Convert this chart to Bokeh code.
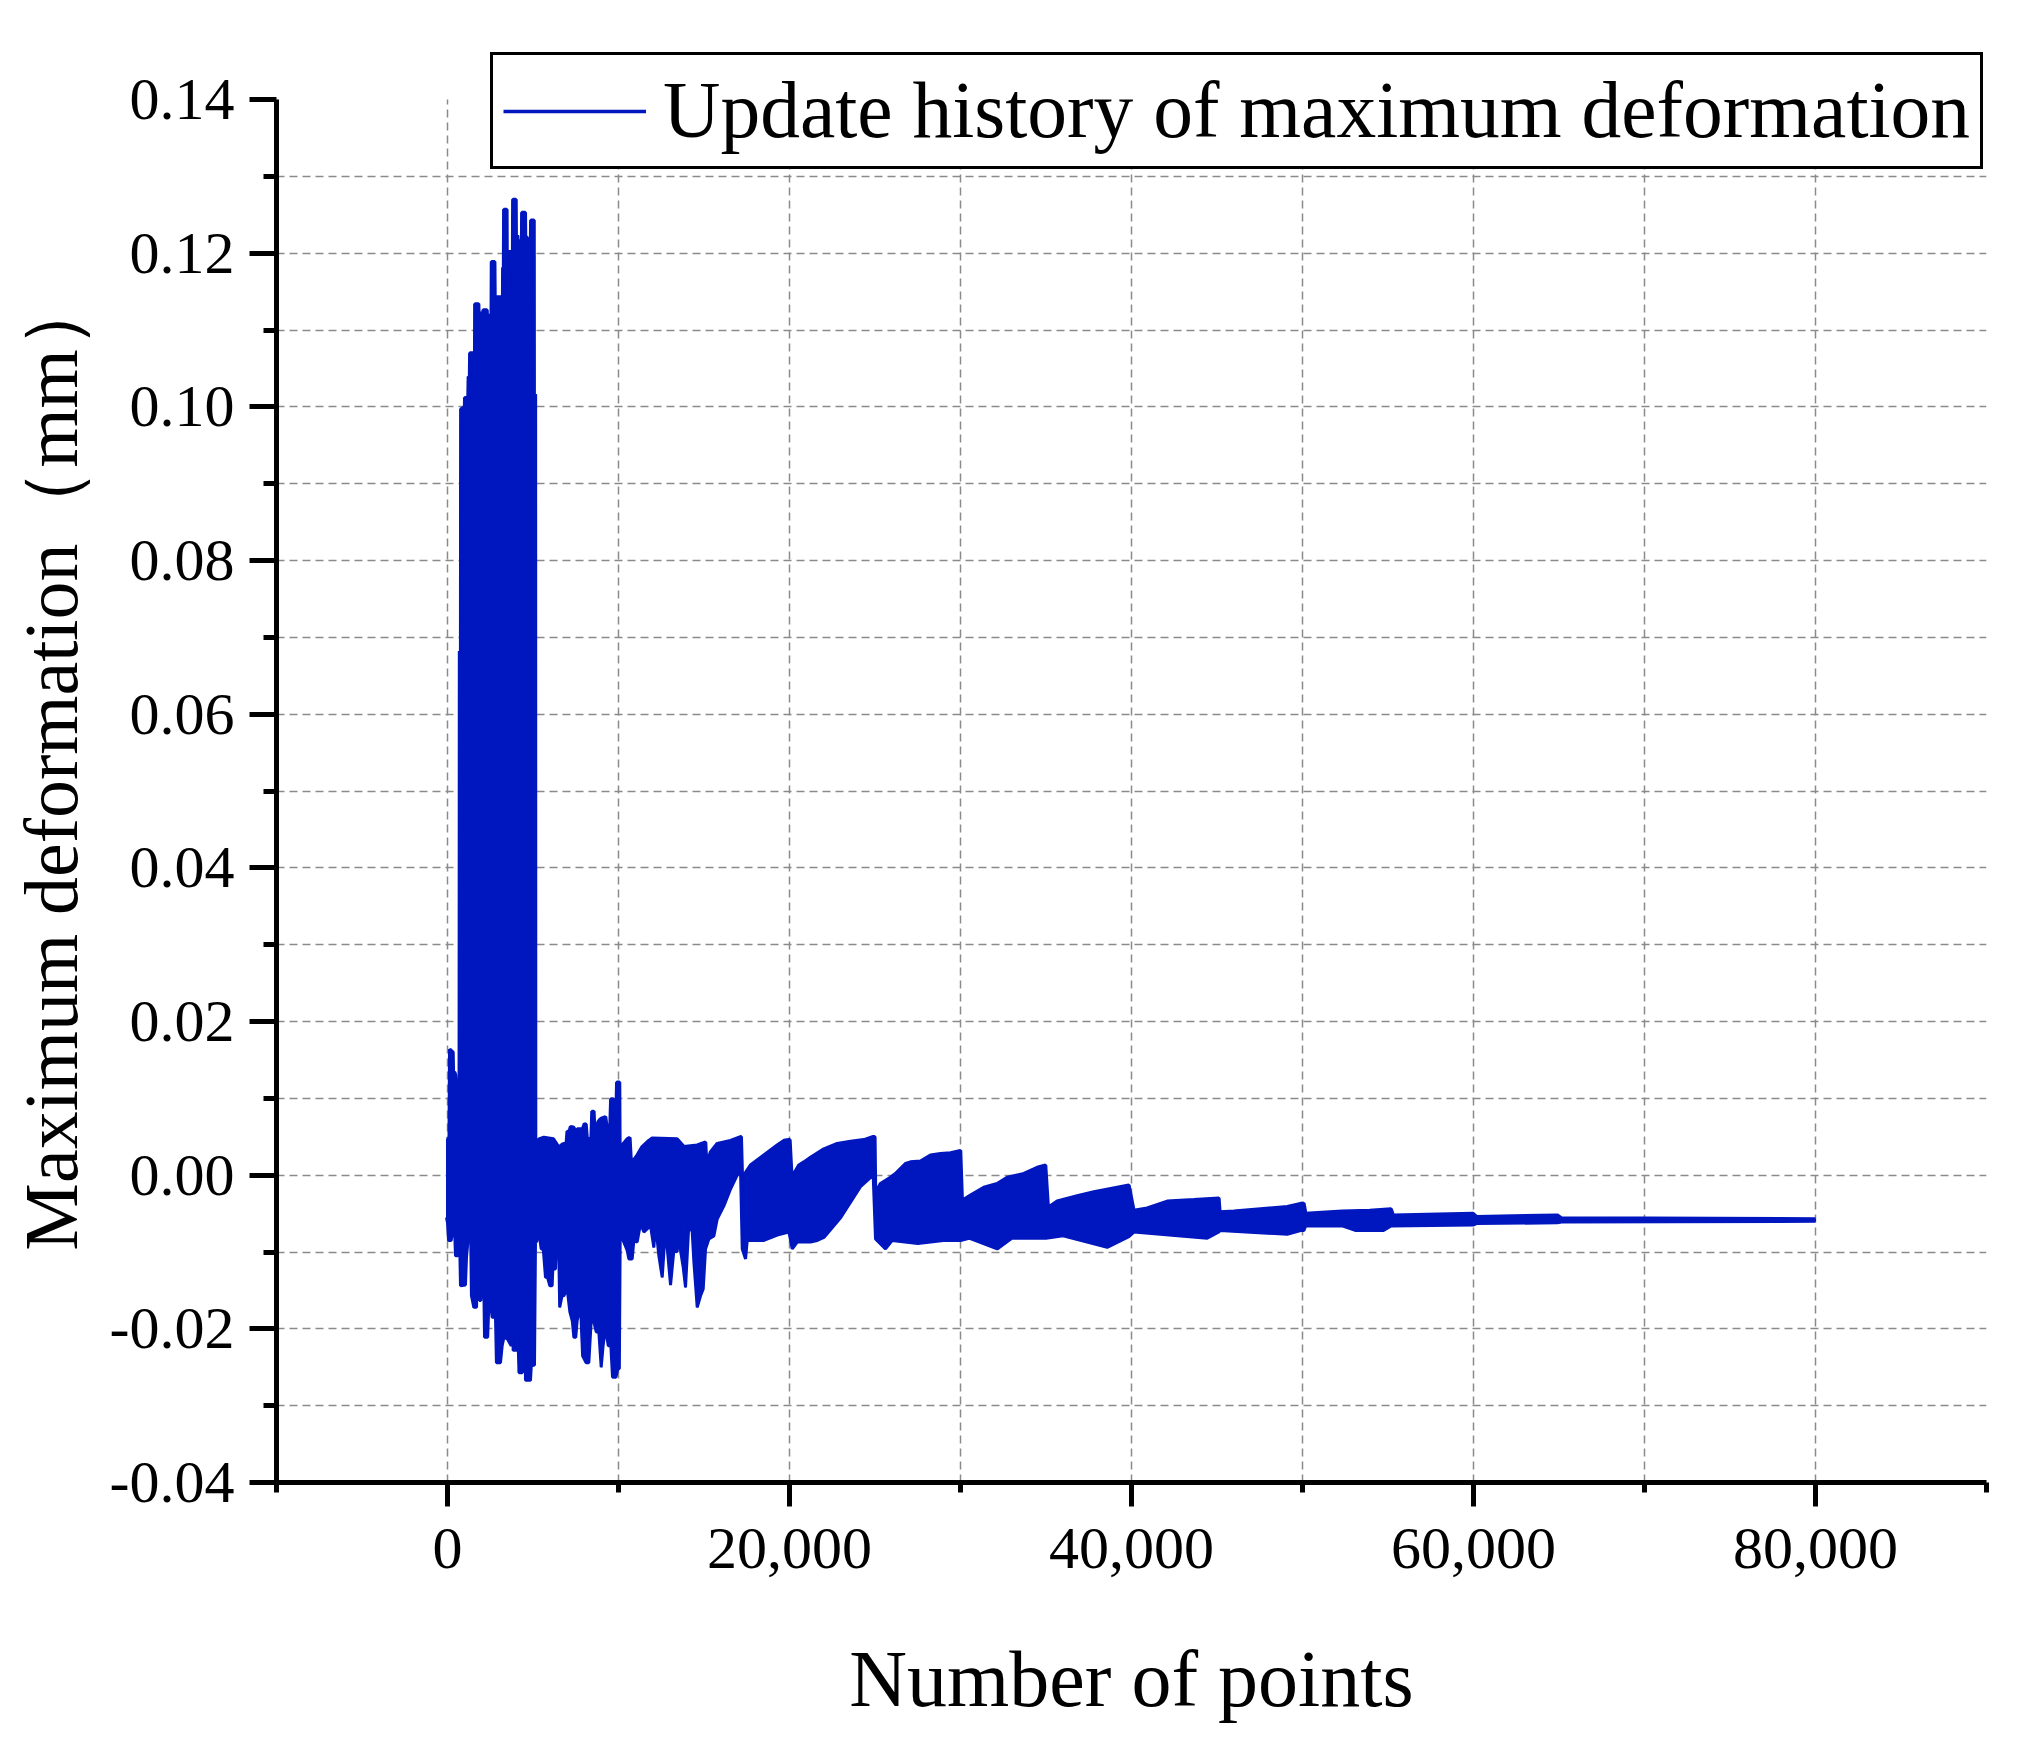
from bokeh.plotting import figure
from bokeh.models import (FixedTicker, NumeralTickFormatter, PrintfTickFormatter,
                          Grid, Legend, LegendItem, Range1d)
from bokeh.embed import file_html
from bokeh.resources import INLINE

# ---------------- data ----------------
# upper envelope of the dense update-history signal
upper_x = [-60, 100, 130, 320, 340, 420, 470, 500, 690, 705, 770, 780, 1000, 1010, 1200, 1220,
           1290, 1306, 1490, 1501, 1590, 1600, 1820, 1832, 2010, 2027, 2060, 2080, 2310, 2320,
           2560, 2573, 2760, 2775, 3130, 3138, 3220, 3236, 3280, 3294, 3470, 3489, 3540, 3560,
           3810, 3821, 4005, 4016, 4100, 4113, 4260, 4269, 4335, 4347, 4550, 4561, 4650, 4659,
           4785, 4795, 4860, 4873, 5060, 5068, 5140, 5150,
           5263, 5340, 5634, 6200, 6400, 6511, 6700, 6950, 7000, 7120, 7194, 7400, 7480, 7584,
           7900, 8012, 8100, 8168, 8400, 8450, 8560, 8620, 8694, 8800, 8900, 9000, 9240, 9338,
           9500, 9552, 9700, 9767, 9850, 9900, 10060, 10080,
           10216, 10508, 10664, 10762, 10898, 11093, 11386, 11776, 11971, 13433, 13823, 14603,
           15090, 15149, 15383, 15773, 16553, 17138, 17177, 17236, 17333, 17723, 18503, 19283,
           19673, 19965, 20024, 20160, 20258, 20550, 20843, 21233, 22013, 22792, 23572, 24352,
           24893, 24990, 25030, 25322, 25907, 26200, 26785, 27077, 27662, 28247, 28832, 29417,
           30002, 30099, 30587, 31366, 32146, 32731, 33706, 34486, 34973, 35129, 35655, 36825,
           37800, 39164, 39847, 40139, 40919, 42088, 43648, 45110, 45168, 45987, 47546, 49106,
           49886, 50084, 50185, 52319, 53930, 55179, 55300, 59972, 60173, 64906, 65148, 70101,
           80000]
upper_y = [0.0047, 0.0047, 0.0164, 0.0160, 0.0134, 0.0134, 0.0130, 0.0119, 0.0119, 0.0682,
           0.0682, 0.0997, 0.1000, 0.1012, 0.1012, 0.1039, 0.1039, 0.1070, 0.1070, 0.1048,
           0.1048, 0.1134, 0.1134, 0.1122, 0.1122, 0.1046, 0.1046, 0.1126, 0.1126, 0.1119,
           0.1119, 0.1189, 0.1189, 0.1143, 0.1143, 0.1120, 0.1120, 0.1181, 0.1181, 0.1257,
           0.1257, 0.1159, 0.1159, 0.1202, 0.1202, 0.1270, 0.1270, 0.1223, 0.1223, 0.1216,
           0.1216, 0.1204, 0.1204, 0.1253, 0.1253, 0.1221, 0.1221, 0.1214, 0.1214, 0.1218,
           0.1218, 0.1243, 0.1243, 0.1016, 0.1016, 0.0048,
           0.0036, 0.0047, 0.0049, 0.0047, 0.0040, 0.0036, 0.0040, 0.0042, 0.0057, 0.0057,
           0.0063, 0.0062, 0.0042, 0.0060, 0.0060, 0.0067, 0.0066, 0.0047, 0.0048, 0.0083,
           0.0083, 0.0050, 0.0047, 0.0069, 0.0072, 0.0074, 0.0076, 0.0060, 0.0060, 0.0099,
           0.0099, 0.0069, 0.0070, 0.0121, 0.0121, 0.0039,
           0.0039, 0.0047, 0.0049, 0.0008, 0.0020, 0.0026, 0.0037, 0.0045, 0.0048, 0.0047,
           0.0037, 0.0039, 0.0043, 0.0015, 0.0030, 0.0041, 0.0045, 0.0050, 0.0050, 0.0000,
           0.0000, 0.0013, 0.0026, 0.0039, 0.0045, 0.0046, 0.0046, -0.0013, 0.0002, 0.0013,
           0.0017, 0.0023, 0.0034, 0.0041, 0.0044, 0.0046, 0.0050, 0.0050, -0.0024, -0.0011,
           -0.0003, 0.0002, 0.0015, 0.0017, 0.0018, 0.0026, 0.0028, 0.0029, 0.0032, -0.0033,
           -0.0026, -0.0016, -0.0011, -0.0003, 0.0002, 0.0010, 0.0013, -0.0042, -0.0034,
           -0.0027, -0.0022, -0.0016, -0.0013, -0.0046, -0.0043, -0.0034, -0.0032, -0.0030,
           -0.0048, -0.0047, -0.0044, -0.0041, -0.0037, -0.0037, -0.0050, -0.0047, -0.0046,
           -0.0044, -0.0052, -0.0050, -0.0054, -0.0052, -0.0056, -0.0056, -0.0057]

# lower envelope
lower_x = [-60, 0, 60, 214, 331, 420, 468, 600, 721, 760, 1050, 1111, 1300, 1345, 1400, 1540,
           1700, 1735, 1830, 1871, 1950, 2000, 2120, 2164, 2350, 2420, 2520, 2612, 2807, 2860,
           3099, 3197, 3300, 3500, 3723, 3782, 3840, 4035, 4113, 4180, 4380, 4425, 4470, 4540,
           4560, 4854, 4900, 5088, 5146, 5205, 5341, 5480, 5600, 5731, 5850, 5985, 6120, 6180,
           6260, 6316, 6414, 6480, 6560, 6700, 6804, 6999, 7155, 7300, 7389, 7500, 7584, 7779,
           7900, 8100, 8265, 8400, 8558, 8700, 8850, 8987, 9100, 9240, 9400, 9552, 9650, 9850,
           9962, 10050, 10100,
           10216, 10508, 10606, 10801, 10898, 11093, 11288, 11483, 11678, 11873, 12068, 12166,
           12361, 12556, 12751, 12848, 13043, 13238, 13433, 13530, 13628, 13784, 13920, 14115,
           14310, 14408, 14603, 14798, 14954, 15090, 15285, 15578, 15773, 16163, 16553, 16943,
           17138, 17236, 17431, 17528, 18503, 19283, 19965, 20160, 20453, 21233, 21623, 22013,
           23000, 24152, 24893, 25030, 25615, 26000, 27500, 29000, 30002, 30500, 32146, 33000,
           35000, 36000, 38580, 39847, 40139, 44427, 45110, 45168, 49106, 49886, 50084, 50185,
           52319, 53125, 54736, 55179, 59972, 60173, 64906, 65148, 80000]
lower_y = [-0.0055, -0.0062, -0.0085, -0.0085, -0.0068, -0.0075, -0.0105, -0.0105, -0.0100,
           -0.0144, -0.0143, -0.0107, -0.0059, -0.0060, -0.0157, -0.0172, -0.0172, -0.0124,
           -0.0124, -0.0163, -0.0163, -0.0137, -0.0137, -0.0211, -0.0211, -0.0167, -0.0167,
           -0.0185, -0.0185, -0.0244, -0.0244, -0.0222, -0.0211, -0.0213, -0.0222, -0.0183,
           -0.0228, -0.0228, -0.0205, -0.0257, -0.0257, -0.0248, -0.0183, -0.0183, -0.0267,
           -0.0267, -0.0248, -0.0247, -0.0087, -0.0087, -0.0074, -0.0096, -0.0096, -0.0133,
           -0.0133, -0.0144, -0.0144, -0.0109, -0.0122, -0.0122, -0.0061, -0.0061, -0.0172,
           -0.0157, -0.0157, -0.0148, -0.0178, -0.0190, -0.0211, -0.0211, -0.0189, -0.0170,
           -0.0235, -0.0244, -0.0244, -0.0191, -0.0191, -0.0204, -0.0204, -0.0250, -0.0222,
           -0.0198, -0.0222, -0.0222, -0.0263, -0.0263, -0.0252, -0.0252, -0.0078,
           -0.0082, -0.0098, -0.0109, -0.0109, -0.0085, -0.0087, -0.0063, -0.0074, -0.0070,
           -0.0066, -0.0094, -0.0063, -0.0105, -0.0133, -0.0068, -0.0094, -0.0143, -0.0098,
           -0.0100, -0.0063, -0.0098, -0.0120, -0.0146, -0.0063, -0.0074, -0.0113, -0.0172,
           -0.0157, -0.0148, -0.0096, -0.0083, -0.0079, -0.0057, -0.0040, -0.0018, 0.0000,
           0.0004, -0.0096, -0.0109, -0.0085, -0.0085, -0.0078, -0.0074, -0.0096, -0.0087,
           -0.0087, -0.0085, -0.0081, -0.0055, -0.0015, 0.0000, -0.0083, -0.0096, -0.0085,
           -0.0089, -0.0085, -0.0085, -0.0082, -0.0096, -0.0082, -0.0082, -0.0079, -0.0094,
           -0.0080, -0.0074, -0.0082, -0.0074, -0.0072, -0.0077, -0.0072, -0.0072, -0.0066,
           -0.0066, -0.0072, -0.0072, -0.0066, -0.0065, -0.0063, -0.0062, -0.0061, -0.0060]

x_major = [0, 20000, 40000, 60000, 80000]
x_minor = [-10000, 10000, 30000, 50000, 70000, 90000]
x_grid = [0, 10000, 20000, 30000, 40000, 50000, 60000, 70000, 80000]
y_major = [-0.04, -0.02, 0.00, 0.02, 0.04, 0.06, 0.08, 0.10, 0.12, 0.14]
y_minor = [-0.03, -0.01, 0.01, 0.03, 0.05, 0.07, 0.09, 0.11, 0.13]
y_grid = [-0.03, -0.02, -0.01, 0.00, 0.01, 0.02, 0.03, 0.04, 0.05, 0.06, 0.07, 0.08,
          0.09, 0.10, 0.11, 0.12, 0.13]
x_lo, x_hi = -10000, 90000
y_lo, y_hi = -0.04, 0.14

series_label = "Update history of maximum deformation"
x_title = "Number of points"
y_title = "Maximum deformation\uff08mm\uff09"

BLUE = "#0016BE"
GRID = "#8a8a8a"
FONT = "Liberation Serif"

# frame: 0.14 sits 58px below the frame top, leaving room for the legend box
px_per_unit = 1382.0 / (y_hi - y_lo)
y_top = y_hi + 58.0 / px_per_unit

p = figure(width=2008, height=1740, output_backend="svg", toolbar_location=None,
           x_range=Range1d(x_lo, x_hi), y_range=Range1d(y_lo, y_top),
           min_border_left=276, min_border_right=22, min_border_top=41, min_border_bottom=258)
p.outline_line_color = None
p.background_fill_color = "white"
p.border_fill_color = "white"

# dashed grid every 10000 / 0.01
p.xgrid.visible = False
p.ygrid.visible = False
gy = Grid(dimension=1, ticker=FixedTicker(ticks=y_grid), grid_line_color=GRID,
          grid_line_width=1.5, grid_line_dash="8 5")
p.add_layout(gy)
p.segment(x0=x_grid, y0=[y_lo] * len(x_grid), x1=x_grid, y1=[y_hi] * len(x_grid),
          line_color=GRID, line_width=1.5, line_dash="8 5")

# signal body
poly_x = upper_x + lower_x[::-1]
poly_y = upper_y + lower_y[::-1]
p.patch(poly_x, poly_y, fill_color=BLUE, line_color=BLUE, line_width=1)
top_line = p.line(upper_x, upper_y, line_color=BLUE, line_width=3.5)
p.line(lower_x, lower_y, line_color=BLUE, line_width=3)

# axes
for ax, maj, mnr in ((p.xaxis[0], x_major, x_minor), (p.yaxis[0], y_major, y_minor)):
    ax.ticker = FixedTicker(ticks=maj, minor_ticks=mnr)
    ax.axis_line_width = 5
    ax.axis_line_color = "black"
    ax.major_tick_line_width = 5
    ax.minor_tick_line_width = 5
    ax.major_tick_in = 0
    ax.minor_tick_in = 0
    ax.major_label_text_font = FONT
    ax.major_label_text_font_size = "60px"
    ax.major_label_text_color = "black"
    ax.axis_label_text_font = FONT
    ax.axis_label_text_font_style = "normal"
    ax.axis_label_text_color = "black"

p.yaxis.bounds = (y_lo, y_hi)
p.xaxis.formatter = NumeralTickFormatter(format="0,0")
p.yaxis.formatter = PrintfTickFormatter(format="%.2f")
p.xaxis.major_tick_out = 24
p.xaxis.minor_tick_out = 10
p.yaxis.major_tick_out = 27
p.yaxis.minor_tick_out = 13
p.xaxis.major_label_standoff = 22
p.yaxis.major_label_standoff = 15
p.xaxis.axis_label = x_title
p.yaxis.axis_label = y_title
p.xaxis.axis_label_text_font_size = "80px"
p.yaxis.axis_label_text_font_size = "76px"
p.xaxis.axis_label_standoff = 64
p.yaxis.axis_label_standoff = 14

legend = Legend(items=[LegendItem(label=series_label, renderers=[top_line])],
                location=(214, 1313), orientation="vertical",
                label_text_font=FONT, label_text_font_size="79.5px",
                label_text_color="black", glyph_width=143, glyph_height=40,
                label_standoff=17, padding=10, spacing=0, margin=0,
                border_line_color="black", border_line_width=3, border_line_alpha=1.0,
                background_fill_color="white", background_fill_alpha=1.0)
p.add_layout(legend, "center")

open("out.html", "w").write(file_html(p, INLINE))
